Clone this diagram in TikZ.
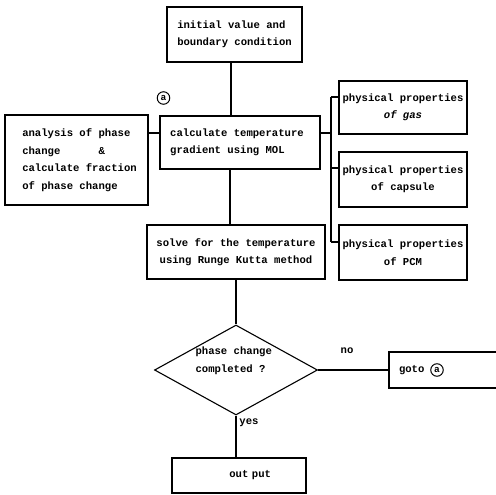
\documentclass[tikz,border=0pt]{standalone}
\usepackage{fontspec}
\setmainfont{Liberation Mono}
\usetikzlibrary{shapes.geometric}
\begin{document}
\begin{tikzpicture}[x=1pt,y=-1pt,line width=1.1pt,
  txt/.style={font=\bfseries\fontsize{10.6}{17.5}\selectfont},
  box/.style={draw,rectangle,inner sep=0pt,txt},
  lbl/.style={inner sep=0pt,txt},
  circa/.style={draw,circle,line width=1pt,minimum size=12.5pt,inner sep=0pt,
    font=\bfseries\fontsize{9.5}{9.5}\selectfont},
  dec/.style={draw,diamond,inner sep=0pt}]
\useasboundingbox (0,0) rectangle (496,495);
\clip (0,0) rectangle (496,495);
% boxes
\node[box,minimum width=135,minimum height=55,align=left] (init) at (234.5,34.5)
  {initial value and\\boundary condition};
\node[box,minimum width=143,minimum height=90,align=left] (left) at (76.5,160)
  {\hspace*{6pt}analysis of phase\\\hspace*{6pt}change\ \ \ \ \ \ \&\\\hspace*{6pt}calculate fraction\\\hspace*{6pt}of phase change};
\node[box,minimum width=160,minimum height=53,align=left] (calc) at (240,142.5)
  {calculate temperature\hspace*{6pt}\\gradient using MOL\hspace*{6pt}};
\node[box,minimum width=128,minimum height=53,align=center] (gas) at (403,107.5)
  {physical properties\\{\itshape of gas}};
\node[box,minimum width=128,minimum height=55,align=center] (caps) at (403,179.5)
  {physical properties\\of capsule};
\node[box,minimum width=128,minimum height=55,align=center] (pcm) at (403,252.5)
  {physical properties\\of PCM};
\node[box,minimum width=178,minimum height=54,align=center] (solve) at (236,252)
  {solve for the temperature\\using Runge Kutta method};
\node[dec,minimum width=163,minimum height=90] (dec) at (236,370) {};
\node[lbl,anchor=west,align=left] (dectext) at (195,361) {phase change\\completed ?};
\node[box,minimum width=131,minimum height=36,text width=111,align=left] (goto) at (454.5,370)
  {goto};
\node[circa] (gotoa) at (437,370) {a};
\node[box,minimum width=134,minimum height=35,text width=64,align=right] (out) at (239,475.5)
  {out put};
\node[circa] (marka) at (163.5,98) {a};
\node[lbl] (no) at (347,351) {no};
\node[lbl] (yes) at (249,423) {yes};
% connector helpers
\coordinate (xa) at (231,0);
\coordinate (xb) at (230,0);
\coordinate (xc) at (236,0);
\coordinate (ya) at (0,133);
\coordinate (yc) at (0,168);
\coordinate (bt) at (331,97);
\coordinate (bb) at (331,242);
\coordinate (bm) at (331,133);
% connectors
\draw (init.south -| xa) -- (calc.north -| xa);
\draw (left.east |- ya) -- (calc.west |- ya);
\draw (calc.east |- ya) -- (bm);
\draw (bt) -- (bb);
\draw (bt) -- (gas.west |- bt);
\draw (bt |- yc) -- (caps.west |- yc);
\draw (bb) -- (pcm.west |- bb);
\draw (calc.south -| xb) -- (solve.north -| xb);
\draw (solve.south -| xc) -- (dec.north);
\draw (dec.east) -- (goto.west);
\draw (dec.south) -- (out.north -| dec.south);
\end{tikzpicture}
\end{document}
